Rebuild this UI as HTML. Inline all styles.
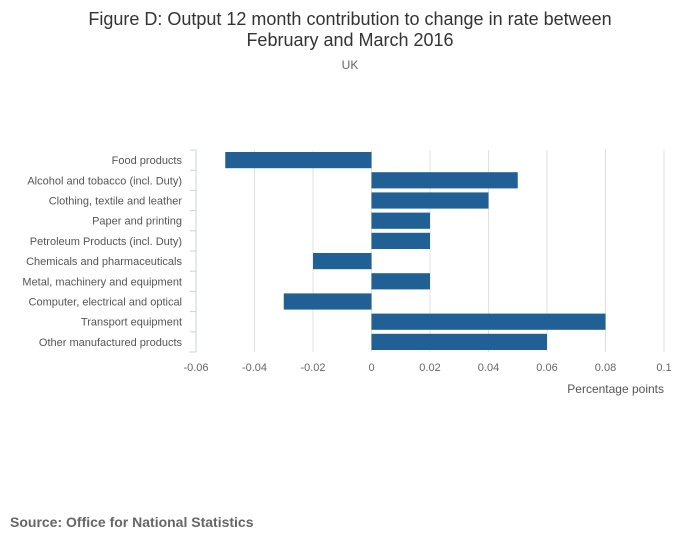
<!DOCTYPE html>
<html><head><meta charset="utf-8"><style>
body{margin:0;background:#fff;font-family:"Liberation Sans",sans-serif;}
svg text{font-family:"Liberation Sans",sans-serif;}
</style></head><body>
<svg id="chart" width="700" height="549">
<text x="350" y="25" text-anchor="middle" font-size="18" fill="#333">Figure D: Output 12 month contribution to change in rate between</text>
<text x="350" y="46" text-anchor="middle" font-size="18" fill="#333">February and March 2016</text>
<text x="350" y="69" text-anchor="middle" font-size="12" fill="#666">UK</text>
<g id="grid"></g><g id="bars"></g><g id="axes"></g>
<text x="664" y="393" text-anchor="end" font-size="12" fill="#555">Percentage points</text>
<text x="10" y="527" font-size="14" font-weight="bold" fill="#666">Source: Office for National Statistics</text>
</svg>
<script>
const categories=["Food products","Alcohol and tobacco (incl. Duty)","Clothing, textile and leather","Paper and printing","Petroleum Products (incl. Duty)","Chemicals and pharmaceuticals","Metal, machinery and equipment","Computer, electrical and optical","Transport equipment","Other manufactured products"];
const values=[-0.05,0.05,0.04,0.02,0.02,-0.02,0.02,-0.03,0.08,0.06];
const ticks=[-0.06,-0.04,-0.02,0,0.02,0.04,0.06,0.08,0.1];
const tickLabels=["-0.06","-0.04","-0.02","0","0.02","0.04","0.06","0.08","0.1"];
const NS="http://www.w3.org/2000/svg";
const x0=196,x1=664,xmin=-0.06,xmax=0.1,yTop=150,yBottom=352;
const xs=v=>x0+(v-xmin)/(xmax-xmin)*(x1-x0);
const band=(yBottom-yTop)/categories.length;
function mk(t,a,p){const e=document.createElementNS(NS,t);for(const k in a)e.setAttribute(k,a[k]);p.appendChild(e);return e;}
const grid=document.getElementById('grid'),bars=document.getElementById('bars'),axes=document.getElementById('axes');
ticks.forEach((t,i)=>{
 if(t!==xmin){const l=mk('line',{x1:xs(t),x2:xs(t),y1:yTop,y2:yBottom,stroke:'#e0e0e0','stroke-width':1},grid);
 
 }
 const tx=mk('text',{x:xs(t),y:yBottom+19,'text-anchor':'middle','font-size':11,fill:'#666'},axes);
 tx.textContent=tickLabels[i];
 
 
});
const ax=mk('line',{x1:x0,x2:x0,y1:yTop,y2:yBottom,stroke:'#c5d2e8','stroke-width':1},axes);


for(let i=0;i<=categories.length;i++){const y=yTop+i*band;
 const tk=mk('line',{x1:x0-6,x2:x0,y1:y,y2:y,stroke:'#c5d2e8','stroke-width':1},axes);
 
 }
categories.forEach((c,i)=>{
 const y=yTop+i*band;const v=values[i];
 const r=mk('rect',{x:Math.min(xs(0),xs(v)),y:y+2,width:Math.abs(xs(v)-xs(0)),height:band-4,fill:'#206095'},bars);
 
 
 const t=mk('text',{x:x0-14,y:y+band/2+4,'text-anchor':'end','font-size':11,fill:'#555'},axes);
 t.textContent=c;
 
 
});
</script>
</body></html>
